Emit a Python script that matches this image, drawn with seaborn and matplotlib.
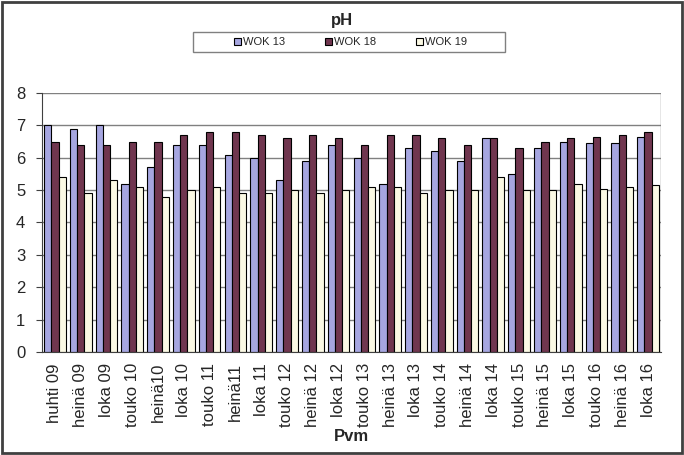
import numpy as np
import pandas as pd
import matplotlib
matplotlib.use('Agg')
import matplotlib.pyplot as plt
from matplotlib.patches import Rectangle
import seaborn as sns

# Datos
pvm = ['huhti 09', 'heinä 09', 'loka 09', 'touko 10', 'heinä10', 'loka 10',
       'touko 11', 'heinä11', 'loka 11', 'touko 12', 'heinä 12', 'loka 12',
       'touko 13', 'heinä 13', 'loka 13', 'touko 14', 'heinä 14', 'loka 14',
       'touko 15', 'heinä 15', 'loka 15', 'touko 16', 'heinä 16', 'loka 16']
wok13 = [7.0, 6.9, 7.0, 5.2, 5.7, 6.4, 6.4, 6.1, 6.0, 5.3, 5.9, 6.4,
         6.0, 5.2, 6.3, 6.2, 5.9, 6.6, 5.5, 6.3, 6.5, 6.45, 6.45, 6.65]
wok18 = [6.5, 6.4, 6.4, 6.5, 6.5, 6.7, 6.8, 6.8, 6.7, 6.6, 6.7, 6.6,
         6.4, 6.7, 6.7, 6.6, 6.4, 6.6, 6.3, 6.5, 6.6, 6.65, 6.7, 6.8]
wok19 = [5.4, 4.9, 5.3, 5.1, 4.8, 5.0, 5.1, 4.9, 4.9, 5.0, 4.9, 5.0,
         5.1, 5.1, 4.9, 5.0, 5.0, 5.4, 5.0, 5.0, 5.2, 5.05, 5.1, 5.15]
sarjat = ['WOK 13', 'WOK 18', 'WOK 19']
colores = ['#9C9CEA', '#7A2C4E', '#FFFCE0']

df = pd.DataFrame({'Pvm': pvm, 'WOK 13': wok13, 'WOK 18': wok18, 'WOK 19': wok19})
df_long = df.melt(id_vars='Pvm', var_name='Sarja', value_name='pH')

sns.set_style('white')
plt.rcParams['font.family'] = ['Liberation Sans', 'DejaVu Sans']

fig = plt.figure(figsize=(6.84, 4.55), dpi=100)
ax = fig.add_axes([0.0614, 0.2264, 0.9049, 0.5692])

sns.barplot(data=df_long, x='Pvm', y='pH', hue='Sarja', order=pvm,
            hue_order=sarjat, palette=colores, width=0.84,
            edgecolor='black', linewidth=0.8, ax=ax, legend=True)

ax.set_ylim(0, 8)
ax.set_xlim(-0.5, len(pvm) - 0.5)
ax.set_yticks(range(0, 9))
ax.yaxis.grid(True, color='#808080', linewidth=1)
ax.set_axisbelow(True)
for s in ['top', 'right']:
    ax.spines[s].set_visible(False)
ax.spines['left'].set_color('#404040')
ax.spines['bottom'].set_color('#404040')
ax.axvline(len(pvm) - 0.5, color='#808080', linewidth=1)

# Marcas entre categorías
ax.set_xticks(np.arange(-0.5, len(pvm)), minor=True)
ax.tick_params(axis='x', which='major', length=0, labelsize=12, rotation=90, pad=8)
ax.tick_params(axis='x', which='minor', length=4, color='#404040', direction='out')
ax.tick_params(axis='y', length=4, labelsize=12, color='#404040', direction='out',
               left=True, pad=8)

ax.set_ylabel('')
ax.set_xlabel('Pvm', fontweight='bold', fontsize=12, labelpad=1)

fig.text(0.5, 0.955, 'pH', ha='center', va='center', fontweight='bold', fontsize=12)

# Leyenda con caja dibujada aparte
handles, labels = ax.get_legend_handles_labels()
ax.legend(handles, labels, loc='center', bbox_to_anchor=(0.513, 0.9077),
          bbox_transform=fig.transFigure, ncol=3,
          fontsize=8, frameon=False,
          handlelength=0.6, handleheight=0.6, handletextpad=0.2,
          columnspacing=3.6)
fig.patches.append(Rectangle((193 / 684, 0.886), 312 / 684, 0.044,
                             transform=fig.transFigure, fill=False,
                             edgecolor='#808080', linewidth=1))

fig.patches.append(Rectangle((0.003, 0.004), 0.994, 0.992, transform=fig.transFigure,
                             fill=False, edgecolor='#404040', linewidth=2))

fig.savefig('out.png', dpi=100)
